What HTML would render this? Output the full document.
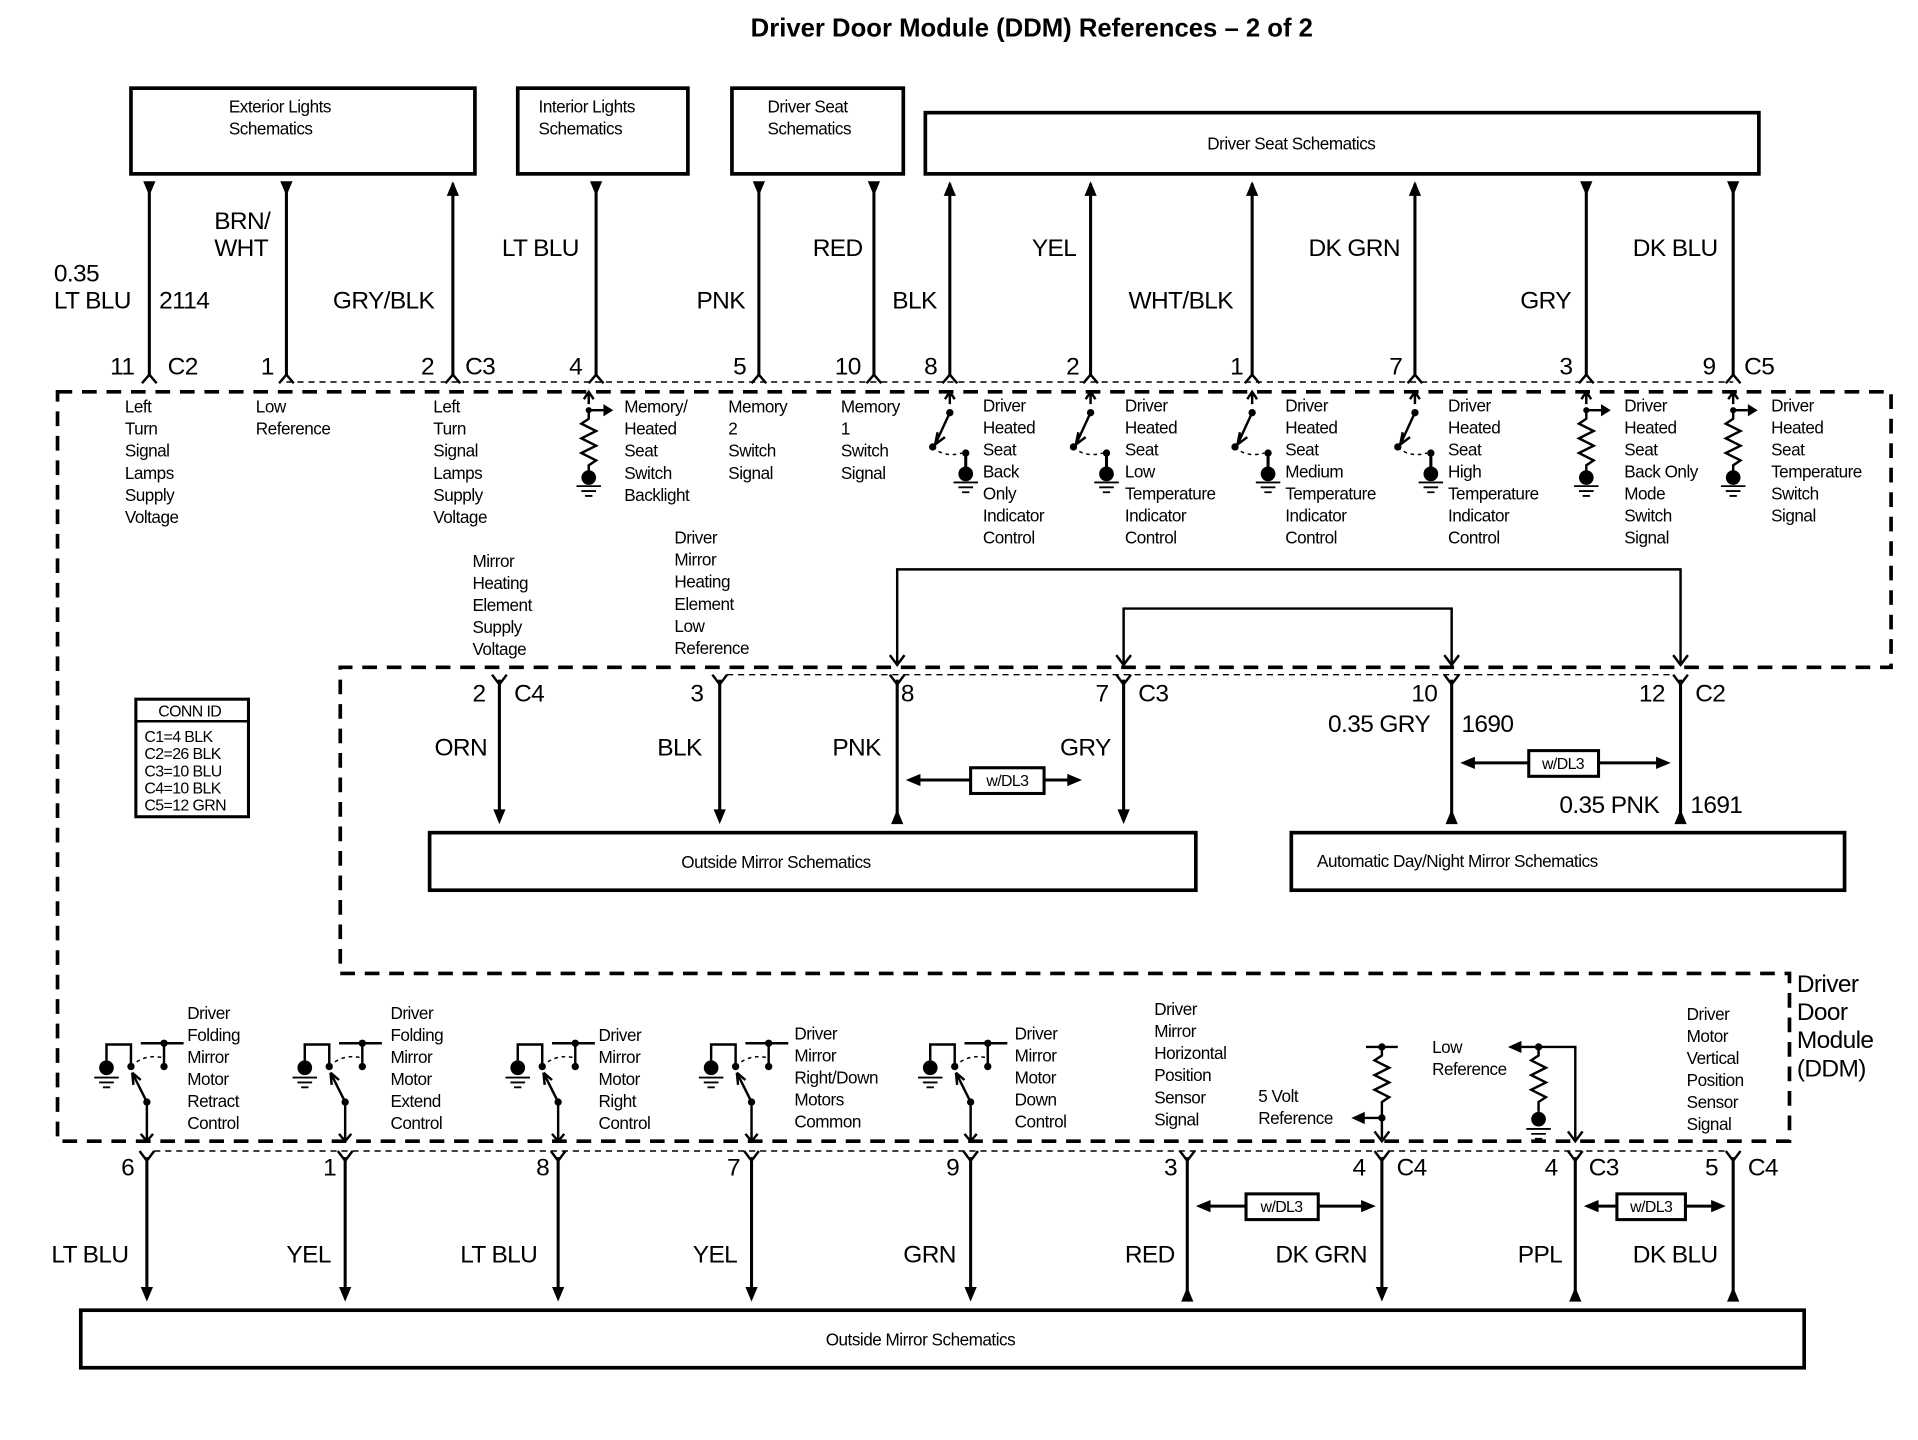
<!DOCTYPE html>
<html><head><meta charset="utf-8"><style>
html,body{margin:0;padding:0;background:#fff;}
svg{display:block;}
text{font-family:"Liberation Sans",sans-serif;fill:#000;}
.s{font-size:14px;letter-spacing:-0.4px;}
.w{font-size:20px;letter-spacing:-0.5px;}
.b{font-size:14px;letter-spacing:-0.4px;}
</style></head><body>
<svg width="1918" height="1440" viewBox="0 0 1567 1176" preserveAspectRatio="none" xmlns="http://www.w3.org/2000/svg">
<defs>
<path id="tdn" d="M-5,0 L5,0 L0,12 Z"/>
<path id="tup" d="M-5,12 L5,12 L0,0 Z"/>
<path id="chu" d="M-6,6 L0,-1 L6,6" fill="none" stroke="#000" stroke-width="2"/>
<path id="chy" d="M-6,-3 L0,5 L6,-3" fill="none" stroke="#000" stroke-width="2"/>
<g id="sw1">
 <path d="M0,0 L0,10 M-4,6 L0,0 L4,6" fill="none" stroke="#000" stroke-width="2"/>
 <circle cx="0" cy="17" r="3"/>
 <path d="M0,17 L-12,43 M-12,43 L-10,33 M-12,43 L-4,37" fill="none" stroke="#000" stroke-width="2"/>
 <circle cx="-14" cy="45" r="3"/>
 <path d="M-14,45 Q-5,54 10,50" fill="none" stroke="#000" stroke-width="1.2" stroke-dasharray="3 3"/>
 <circle cx="13" cy="50" r="3"/>
 <path d="M13,50 L13,64" stroke="#000" stroke-width="2.5"/>
 <circle cx="13" cy="67" r="6"/>
 <path d="M3,74 L23,74 M7,78 L19,78 M10,82 L16,82" stroke="#000" stroke-width="1.5"/>
</g>
<g id="res">
 <path d="M0,0 L0,10 M-4,6 L0,0 L4,6" fill="none" stroke="#000" stroke-width="2"/>
 <circle cx="0" cy="15" r="2.5"/>
 <path d="M0,15 L12,15" stroke="#000" stroke-width="2"/><path d="M12,10 L20,15 L12,20Z"/>
 <path d="M0,15 L0,22 L-6,26 L6,32 L-6,38 L6,44 L-6,50 L6,56 L0,60 L0,66" fill="none" stroke="#000" stroke-width="2"/>
 <circle cx="0" cy="70" r="6"/>
 <path d="M-10,77 L10,77 M-6,81 L6,81 M-3,85 L3,85" stroke="#000" stroke-width="1.5"/>
</g>
<g id="sw2">
 <circle cx="-33" cy="872" r="6"/>
 <path d="M-43,880 L-23,880 M-39,884 L-27,884 M-36,888 L-30,888" stroke="#000" stroke-width="1.5"/>
 <path d="M-33,866 L-33,853 L-13,853 L-13,870" fill="none" stroke="#000" stroke-width="2"/>
 <circle cx="-13" cy="871" r="3"/>
 <path d="M-13,871 Q-2,860 14,864" fill="none" stroke="#000" stroke-width="1.2" stroke-dasharray="3 3"/>
 <path d="M-5,852 L30,852 M14,852 L14,870" fill="none" stroke="#000" stroke-width="2"/>
 <circle cx="14" cy="852" r="3"/><circle cx="14" cy="871" r="3"/>
 <path d="M0,900 L-12,876 M-12,876 L-11,886 M-12,876 L-5,882" fill="none" stroke="#000" stroke-width="2"/>
 <circle cx="0" cy="900" r="3"/>
 <path d="M0,900 L0,932 M-5,926 L0,932 L5,926" fill="none" stroke="#000" stroke-width="2"/>
</g>
</defs>

<text x="843" y="30" font-size="21" font-weight="bold" text-anchor="middle">Driver Door Module (DDM) References – 2 of 2</text>

<!-- top boxes -->
<g fill="none" stroke="#000" stroke-width="3">
<rect x="107" y="72" width="281" height="70"/>
<rect x="423" y="72" width="139" height="70"/>
<rect x="598" y="72" width="140" height="70"/>
<rect x="756" y="92" width="681" height="50"/>
<rect x="351" y="680" width="626" height="47"/>
<rect x="1055" y="680" width="452" height="47"/>
<rect x="66" y="1070" width="1408" height="47"/>
<rect x="111" y="571" width="92" height="96" stroke-width="2.5"/>
</g>
<line x1="111" y1="589" x2="203" y2="589" stroke="#000" stroke-width="2"/>
<text class="b" x="187" y="92">Exterior Lights</text><text class="b" x="187" y="110">Schematics</text>
<text class="b" x="440" y="92">Interior Lights</text><text class="b" x="440" y="110">Schematics</text>
<text class="b" x="627" y="92">Driver Seat</text><text class="b" x="627" y="110">Schematics</text>
<text class="b" x="1055" y="122" text-anchor="middle">Driver Seat Schematics</text>
<text class="b" x="634" y="709" text-anchor="middle">Outside Mirror Schematics</text>
<text class="b" x="1076" y="708">Automatic Day/Night Mirror Schematics</text>
<text class="b" x="752" y="1099" text-anchor="middle">Outside Mirror Schematics</text>
<text x="155" y="585" font-size="13" text-anchor="middle" letter-spacing="-0.5">CONN ID</text>
<g font-size="13" letter-spacing="-0.5"><text x="118" y="606">C1=4 BLK</text><text x="118" y="620">C2=26 BLK</text><text x="118" y="634">C3=10 BLU</text><text x="118" y="648">C4=10 BLK</text><text x="118" y="662">C5=12 GRN</text></g>

<!-- top wires -->
<g stroke="#000" stroke-width="2.5">
<line x1="122" y1="150" x2="122" y2="306"/><line x1="234" y1="150" x2="234" y2="306"/>
<line x1="370" y1="150" x2="370" y2="306"/><line x1="487" y1="150" x2="487" y2="306"/>
<line x1="620" y1="150" x2="620" y2="306"/><line x1="714" y1="150" x2="714" y2="306"/>
<line x1="776" y1="150" x2="776" y2="306"/><line x1="891" y1="150" x2="891" y2="306"/>
<line x1="1023" y1="150" x2="1023" y2="306"/><line x1="1156" y1="150" x2="1156" y2="306"/>
<line x1="1296" y1="150" x2="1296" y2="306"/><line x1="1416" y1="150" x2="1416" y2="306"/>
</g>
<use href="#tdn" x="122" y="148"/><use href="#tdn" x="234" y="148"/><use href="#tup" x="370" y="148"/>
<use href="#tdn" x="487" y="148"/><use href="#tdn" x="620" y="148"/><use href="#tdn" x="714" y="148"/>
<use href="#tup" x="776" y="148"/><use href="#tup" x="891" y="148"/><use href="#tup" x="1023" y="148"/>
<use href="#tup" x="1156" y="148"/><use href="#tdn" x="1296" y="148"/><use href="#tdn" x="1416" y="148"/>
<use href="#chu" x="122" y="307"/><use href="#chu" x="234" y="307"/><use href="#chu" x="370" y="307"/>
<use href="#chu" x="487" y="307"/><use href="#chu" x="620" y="307"/><use href="#chu" x="714" y="307"/>
<use href="#chu" x="776" y="307"/><use href="#chu" x="891" y="307"/><use href="#chu" x="1023" y="307"/>
<use href="#chu" x="1156" y="307"/><use href="#chu" x="1296" y="307"/><use href="#chu" x="1416" y="307"/>
<line x1="234" y1="312" x2="1416" y2="312" stroke="#000" stroke-width="1.2" stroke-dasharray="5 4"/>

<g class="w">
<text x="44" y="230">0.35</text><text x="44" y="252">LT BLU</text><text x="130" y="252">2114</text>
<text x="175" y="187">BRN/</text><text x="175" y="209">WHT</text><text x="272" y="252">GRY/BLK</text>
<text x="410" y="209">LT BLU</text><text x="569" y="252">PNK</text><text x="664" y="209">RED</text>
<text x="729" y="252">BLK</text><text x="843" y="209">YEL</text><text x="922" y="252">WHT/BLK</text>
<text x="1069" y="209">DK GRN</text><text x="1242" y="252">GRY</text><text x="1334" y="209">DK BLU</text>
<text x="90" y="306">11</text><text x="137" y="306">C2</text><text x="213" y="306">1</text>
<text x="344" y="306">2</text><text x="380" y="306">C3</text><text x="465" y="306">4</text>
<text x="599" y="306">5</text><text x="682" y="306">10</text><text x="755" y="306">8</text>
<text x="871" y="306">2</text><text x="1005" y="306">1</text><text x="1135" y="306">7</text>
<text x="1274" y="306">3</text><text x="1391" y="306">9</text><text x="1425" y="306">C5</text>
</g>

<!-- module border -->
<path d="M47,320 L1545,320 L1545,545 L278,545 L278,795 L1462,795 L1462,932 L47,932 Z" fill="none" stroke="#000" stroke-width="3" stroke-dasharray="12 8"/>
<text x="1468" y="810" font-size="20" letter-spacing="-0.5">Driver</text>
<text x="1468" y="833" font-size="20" letter-spacing="-0.5">Door</text>
<text x="1468" y="856" font-size="20" letter-spacing="-0.5">Module</text>
<text x="1468" y="879" font-size="20" letter-spacing="-0.5">(DDM)</text>

<!-- top internal symbols -->
<use href="#res" x="481" y="320"/>
<use href="#sw1" x="776" y="320"/><use href="#sw1" x="891" y="320"/>
<use href="#sw1" x="1023" y="320"/><use href="#sw1" x="1156" y="320"/>
<use href="#res" x="1296" y="320"/><use href="#res" x="1416" y="320"/>

<g class="s">
<text x="102" y="337"><tspan x="102">Left</tspan><tspan x="102" dy="18">Turn</tspan><tspan x="102" dy="18">Signal</tspan><tspan x="102" dy="18">Lamps</tspan><tspan x="102" dy="18">Supply</tspan><tspan x="102" dy="18">Voltage</tspan></text>
<text x="209" y="337"><tspan x="209">Low</tspan><tspan x="209" dy="18">Reference</tspan></text>
<text x="354" y="337"><tspan x="354">Left</tspan><tspan x="354" dy="18">Turn</tspan><tspan x="354" dy="18">Signal</tspan><tspan x="354" dy="18">Lamps</tspan><tspan x="354" dy="18">Supply</tspan><tspan x="354" dy="18">Voltage</tspan></text>
<text x="510" y="337"><tspan x="510">Memory/</tspan><tspan x="510" dy="18">Heated</tspan><tspan x="510" dy="18">Seat</tspan><tspan x="510" dy="18">Switch</tspan><tspan x="510" dy="18">Backlight</tspan></text>
<text x="595" y="337"><tspan x="595">Memory</tspan><tspan x="595" dy="18">2</tspan><tspan x="595" dy="18">Switch</tspan><tspan x="595" dy="18">Signal</tspan></text>
<text x="687" y="337"><tspan x="687">Memory</tspan><tspan x="687" dy="18">1</tspan><tspan x="687" dy="18">Switch</tspan><tspan x="687" dy="18">Signal</tspan></text>
<text x="803" y="336"><tspan x="803">Driver</tspan><tspan x="803" dy="18">Heated</tspan><tspan x="803" dy="18">Seat</tspan><tspan x="803" dy="18">Back</tspan><tspan x="803" dy="18">Only</tspan><tspan x="803" dy="18">Indicator</tspan><tspan x="803" dy="18">Control</tspan></text>
<text x="919" y="336"><tspan x="919">Driver</tspan><tspan x="919" dy="18">Heated</tspan><tspan x="919" dy="18">Seat</tspan><tspan x="919" dy="18">Low</tspan><tspan x="919" dy="18">Temperature</tspan><tspan x="919" dy="18">Indicator</tspan><tspan x="919" dy="18">Control</tspan></text>
<text x="1050" y="336"><tspan x="1050">Driver</tspan><tspan x="1050" dy="18">Heated</tspan><tspan x="1050" dy="18">Seat</tspan><tspan x="1050" dy="18">Medium</tspan><tspan x="1050" dy="18">Temperature</tspan><tspan x="1050" dy="18">Indicator</tspan><tspan x="1050" dy="18">Control</tspan></text>
<text x="1183" y="336"><tspan x="1183">Driver</tspan><tspan x="1183" dy="18">Heated</tspan><tspan x="1183" dy="18">Seat</tspan><tspan x="1183" dy="18">High</tspan><tspan x="1183" dy="18">Temperature</tspan><tspan x="1183" dy="18">Indicator</tspan><tspan x="1183" dy="18">Control</tspan></text>
<text x="1327" y="336"><tspan x="1327">Driver</tspan><tspan x="1327" dy="18">Heated</tspan><tspan x="1327" dy="18">Seat</tspan><tspan x="1327" dy="18">Back Only</tspan><tspan x="1327" dy="18">Mode</tspan><tspan x="1327" dy="18">Switch</tspan><tspan x="1327" dy="18">Signal</tspan></text>
<text x="1447" y="336"><tspan x="1447">Driver</tspan><tspan x="1447" dy="18">Heated</tspan><tspan x="1447" dy="18">Seat</tspan><tspan x="1447" dy="18">Temperature</tspan><tspan x="1447" dy="18">Switch</tspan><tspan x="1447" dy="18">Signal</tspan></text>
<text x="386" y="463"><tspan x="386">Mirror</tspan><tspan x="386" dy="18">Heating</tspan><tspan x="386" dy="18">Element</tspan><tspan x="386" dy="18">Supply</tspan><tspan x="386" dy="18">Voltage</tspan></text>
<text x="551" y="444"><tspan x="551">Driver</tspan><tspan x="551" dy="18">Mirror</tspan><tspan x="551" dy="18">Heating</tspan><tspan x="551" dy="18">Element</tspan><tspan x="551" dy="18">Low</tspan><tspan x="551" dy="18">Reference</tspan></text>
</g>

<!-- routing lines -->
<g fill="none" stroke="#000" stroke-width="2">
<path d="M733,543 L733,465 L1373,465 L1373,543"/>
<path d="M918,543 L918,497 L1186,497 L1186,543"/>
<path d="M727,535 L733,543 L739,535 M1367,535 L1373,543 L1379,535 M912,535 L918,543 L924,535 M1180,535 L1186,543 L1192,535"/>
</g>

<!-- middle wires -->
<g stroke="#000" stroke-width="2.5">
<line x1="408" y1="555" x2="408" y2="662"/><line x1="588" y1="555" x2="588" y2="662"/>
<line x1="733" y1="555" x2="733" y2="672"/><line x1="918" y1="555" x2="918" y2="662"/>
<line x1="1186" y1="555" x2="1186" y2="672"/><line x1="1373" y1="555" x2="1373" y2="672"/>
</g>
<use href="#chy" x="408" y="554"/><use href="#chy" x="588" y="554"/><use href="#chy" x="733" y="554"/>
<use href="#chy" x="918" y="554"/><use href="#chy" x="1186" y="554"/><use href="#chy" x="1373" y="554"/>
<line x1="594" y1="551" x2="1367" y2="551" stroke="#000" stroke-width="1.2" stroke-dasharray="5 4"/>
<use href="#tdn" x="408" y="661"/><use href="#tdn" x="588" y="661"/><use href="#tup" x="733" y="661"/>
<use href="#tdn" x="918" y="661"/><use href="#tup" x="1186" y="661"/><use href="#tup" x="1373" y="661"/>
<g class="w">
<text x="386" y="573">2</text><text x="420" y="573">C4</text><text x="564" y="573">3</text>
<text x="736" y="573">8</text><text x="895" y="573">7</text><text x="930" y="573">C3</text>
<text x="1153" y="573">10</text><text x="1339" y="573">12</text><text x="1385" y="573">C2</text>
<text x="355" y="617">ORN</text><text x="537" y="617">BLK</text><text x="680" y="617">PNK</text><text x="866" y="617">GRY</text>
<text x="1085" y="598">0.35 GRY</text><text x="1194" y="598">1690</text>
<text x="1274" y="664">0.35 PNK</text><text x="1381" y="664">1691</text>
</g>

<!-- w/DL3 boxes -->
<g stroke="#000" stroke-width="2.5" fill="none">
<line x1="745" y1="637" x2="879" y2="637"/><rect x="793" y="627" width="60" height="21" fill="#fff"/>
<line x1="1198" y1="623" x2="1360" y2="623"/><rect x="1249" y="613" width="57" height="21" fill="#fff"/>
<line x1="982" y1="985" x2="1119" y2="985"/><rect x="1018" y="975" width="59" height="21" fill="#fff"/>
<line x1="1299" y1="985" x2="1405" y2="985"/><rect x="1321" y="975" width="56" height="21" fill="#fff"/>
</g>
<path d="M740,637 L752,632 L752,642Z M884,637 L872,632 L872,642Z M1193,623 L1205,618 L1205,628Z M1365,623 L1353,618 L1353,628Z M977,985 L989,980 L989,990Z M1124,985 L1112,980 L1112,990Z M1294,985 L1306,980 L1306,990Z M1410,985 L1398,980 L1398,990Z"/>
<g font-size="13" letter-spacing="-0.5" text-anchor="middle">
<text x="823" y="642">w/DL3</text><text x="1277" y="628">w/DL3</text><text x="1047" y="990">w/DL3</text><text x="1349" y="990">w/DL3</text>
</g>

<!-- bottom symbols -->
<use href="#sw2" x="120" y="0"/><use href="#sw2" x="282" y="0"/><use href="#sw2" x="456" y="0"/>
<use href="#sw2" x="614" y="0"/><use href="#sw2" x="793" y="0"/>
<g fill="none" stroke="#000" stroke-width="2">
<path d="M1116,855 L1142,855 M1129,855 L1129,862 L1123,866 L1135,872 L1123,878 L1135,884 L1123,890 L1135,896 L1129,900 L1129,930 M1123,924 L1129,932 L1135,924"/>
<path d="M1129,913 L1112,913"/>
<path d="M1243,855 L1287,855 L1287,930 M1281,924 L1287,932 L1293,924"/>
<path d="M1257,855 L1257,862 L1251,866 L1263,872 L1251,878 L1263,884 L1251,890 L1263,896 L1257,900 L1257,908"/>
<path d="M1247,922 L1267,922 M1251,926 L1263,926 M1254,930 L1260,930" stroke-width="1.5"/>
</g>
<circle cx="1129" cy="855" r="3"/><circle cx="1129" cy="913" r="3"/><circle cx="1257" cy="855" r="3"/><circle cx="1257" cy="914" r="6"/>
<path d="M1104,913 L1115,908 L1115,918Z M1232,855 L1243,850 L1243,860Z"/>

<g class="s">
<text><tspan x="153" y="832">Driver</tspan><tspan x="153" dy="18">Folding</tspan><tspan x="153" dy="18">Mirror</tspan><tspan x="153" dy="18">Motor</tspan><tspan x="153" dy="18">Retract</tspan><tspan x="153" dy="18">Control</tspan></text>
<text><tspan x="319" y="832">Driver</tspan><tspan x="319" dy="18">Folding</tspan><tspan x="319" dy="18">Mirror</tspan><tspan x="319" dy="18">Motor</tspan><tspan x="319" dy="18">Extend</tspan><tspan x="319" dy="18">Control</tspan></text>
<text><tspan x="489" y="850">Driver</tspan><tspan x="489" dy="18">Mirror</tspan><tspan x="489" dy="18">Motor</tspan><tspan x="489" dy="18">Right</tspan><tspan x="489" dy="18">Control</tspan></text>
<text><tspan x="649" y="849">Driver</tspan><tspan x="649" dy="18">Mirror</tspan><tspan x="649" dy="18">Right/Down</tspan><tspan x="649" dy="18">Motors</tspan><tspan x="649" dy="18">Common</tspan></text>
<text><tspan x="829" y="849">Driver</tspan><tspan x="829" dy="18">Mirror</tspan><tspan x="829" dy="18">Motor</tspan><tspan x="829" dy="18">Down</tspan><tspan x="829" dy="18">Control</tspan></text>
<text><tspan x="943" y="829">Driver</tspan><tspan x="943" dy="18">Mirror</tspan><tspan x="943" dy="18">Horizontal</tspan><tspan x="943" dy="18">Position</tspan><tspan x="943" dy="18">Sensor</tspan><tspan x="943" dy="18">Signal</tspan></text>
<text><tspan x="1028" y="900">5 Volt</tspan><tspan x="1028" dy="18">Reference</tspan></text>
<text><tspan x="1170" y="860">Low</tspan><tspan x="1170" dy="18">Reference</tspan></text>
<text><tspan x="1378" y="833">Driver</tspan><tspan x="1378" dy="18">Motor</tspan><tspan x="1378" dy="18">Vertical</tspan><tspan x="1378" dy="18">Position</tspan><tspan x="1378" dy="18">Sensor</tspan><tspan x="1378" dy="18">Signal</tspan></text>
</g>

<!-- bottom wires -->
<g stroke="#000" stroke-width="2.5">
<line x1="120" y1="945" x2="120" y2="1052"/><line x1="282" y1="945" x2="282" y2="1052"/>
<line x1="456" y1="945" x2="456" y2="1052"/><line x1="614" y1="945" x2="614" y2="1052"/>
<line x1="793" y1="945" x2="793" y2="1052"/><line x1="970" y1="945" x2="970" y2="1062"/>
<line x1="1129" y1="945" x2="1129" y2="1052"/><line x1="1287" y1="945" x2="1287" y2="1062"/>
<line x1="1416" y1="945" x2="1416" y2="1062"/>
</g>
<use href="#chy" x="120" y="943"/><use href="#chy" x="282" y="943"/><use href="#chy" x="456" y="943"/>
<use href="#chy" x="614" y="943"/><use href="#chy" x="793" y="943"/><use href="#chy" x="970" y="943"/>
<use href="#chy" x="1129" y="943"/><use href="#chy" x="1287" y="943"/><use href="#chy" x="1416" y="943"/>
<line x1="126" y1="940" x2="1410" y2="940" stroke="#000" stroke-width="1.2" stroke-dasharray="5 4"/>
<use href="#tdn" x="120" y="1051"/><use href="#tdn" x="282" y="1051"/><use href="#tdn" x="456" y="1051"/>
<use href="#tdn" x="614" y="1051"/><use href="#tdn" x="793" y="1051"/><use href="#tup" x="970" y="1051"/>
<use href="#tdn" x="1129" y="1051"/><use href="#tup" x="1287" y="1051"/><use href="#tup" x="1416" y="1051"/>
<g class="w">
<text x="99" y="960">6</text><text x="264" y="960">1</text><text x="438" y="960">8</text><text x="594" y="960">7</text>
<text x="773" y="960">9</text><text x="951" y="960">3</text><text x="1105" y="960">4</text><text x="1141" y="960">C4</text>
<text x="1262" y="960">4</text><text x="1298" y="960">C3</text><text x="1393" y="960">5</text><text x="1428" y="960">C4</text>
<text x="42" y="1031">LT BLU</text><text x="234" y="1031">YEL</text><text x="376" y="1031">LT BLU</text>
<text x="566" y="1031">YEL</text><text x="738" y="1031">GRN</text><text x="919" y="1031">RED</text>
<text x="1042" y="1031">DK GRN</text><text x="1240" y="1031">PPL</text><text x="1334" y="1031">DK BLU</text>
</g>
</svg>
</body></html>
